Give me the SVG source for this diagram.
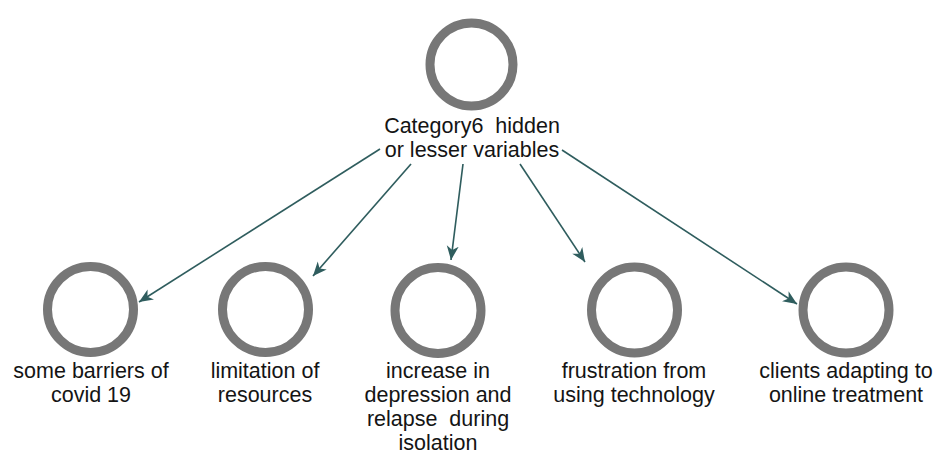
<svg xmlns="http://www.w3.org/2000/svg" width="934" height="453" viewBox="0 0 934 453">
  <style>
    .ring { fill: none; stroke: #777777; stroke-width: 9; }
    .label { font-family: "Liberation Sans", Arial, sans-serif; font-size: 21.5px; fill: #141414; text-anchor: middle; white-space: pre; }
    .edge { fill: none; stroke: #2f5d5e; stroke-width: 1.6; marker-end: url(#arrow); }
  </style>
  <defs>
    <marker id="arrow" markerUnits="userSpaceOnUse" markerWidth="16" markerHeight="14" refX="14" refY="6" orient="auto">
      <path d="M0,0 L14,6 L0,12 L4,6 z" fill="#2f5d5e"/>
    </marker>
  </defs>
  <rect width="934" height="453" fill="#ffffff"/>

  <g id="connectors">
    <path class="edge" d="M380,149 L139,302"/>
    <path class="edge" d="M411,164 L313,276"/>
    <path class="edge" d="M463,164 L451,260"/>
    <path class="edge" d="M520,164 L585,262"/>
    <path class="edge" d="M562,150 L797,304"/>
  </g>

  <g id="category6">
    <circle class="ring" cx="471.5" cy="64.5" r="41.5"/>
    <text class="label" x="472" y="133" xml:space="preserve">Category6  hidden</text>
    <text class="label" x="472" y="157">or lesser variables</text>
  </g>

  <g id="barriers">
    <circle class="ring" cx="90.5" cy="309.5" r="43"/>
    <text class="label" x="91" y="378">some barriers of</text>
    <text class="label" x="91" y="402">covid 19</text>
  </g>

  <g id="limitation">
    <circle class="ring" cx="265.5" cy="309.5" r="43"/>
    <text class="label" x="265" y="378">limitation of</text>
    <text class="label" x="265" y="402">resources</text>
  </g>

  <g id="depression">
    <circle class="ring" cx="438" cy="310.5" r="43"/>
    <text class="label" x="438" y="378">increase in</text>
    <text class="label" x="438" y="402">depression and</text>
    <text class="label" x="438" y="426" xml:space="preserve">relapse  during</text>
    <text class="label" x="438" y="450">isolation</text>
  </g>

  <g id="frustration">
    <circle class="ring" cx="634.5" cy="310" r="43"/>
    <text class="label" x="634" y="378">frustration from</text>
    <text class="label" x="634" y="402">using technology</text>
  </g>

  <g id="adapting">
    <circle class="ring" cx="846" cy="310" r="43"/>
    <text class="label" x="846" y="378">clients adapting to</text>
    <text class="label" x="846" y="402">online treatment</text>
  </g>
</svg>
